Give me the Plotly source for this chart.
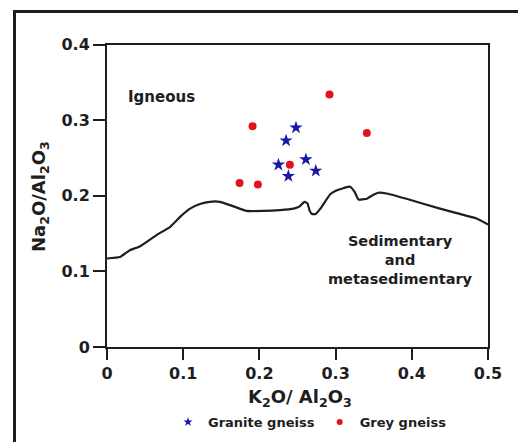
import plotly.graph_objects as go

# Discrimination boundary between igneous and sedimentary fields
boundary_x = [0.000, 0.017, 0.030, 0.043, 0.065, 0.083, 0.098, 0.109, 0.122, 0.135,
              0.148, 0.166, 0.183, 0.205, 0.227, 0.245, 0.253, 0.259, 0.263, 0.266,
              0.269, 0.274, 0.280, 0.293, 0.301, 0.310, 0.319, 0.325, 0.330, 0.341,
              0.349, 0.356, 0.367, 0.393, 0.437, 0.459, 0.485, 0.500]
boundary_y = [0.117, 0.119, 0.128, 0.133, 0.148, 0.159, 0.174, 0.183, 0.189, 0.192,
              0.192, 0.186, 0.180, 0.180, 0.181, 0.183, 0.186, 0.192, 0.190, 0.180,
              0.176, 0.176, 0.183, 0.202, 0.207, 0.210, 0.212, 0.205, 0.195, 0.196,
              0.201, 0.204, 0.203, 0.196, 0.183, 0.177, 0.170, 0.162]

# Sample compositions (K2O/Al2O3, Na2O/Al2O3)
granite_k = [0.248, 0.235, 0.261, 0.225, 0.274, 0.238]
granite_na = [0.290, 0.273, 0.248, 0.241, 0.233, 0.226]

grey_k = [0.292, 0.191, 0.341, 0.240, 0.174, 0.198]
grey_na = [0.334, 0.292, 0.283, 0.241, 0.217, 0.215]

x_ticks = [0, 0.1, 0.2, 0.3, 0.4, 0.5]
x_ticklabels = ["0", "0.1", "0.2", "0.3", "0.4", "0.5"]
y_ticks = [0, 0.1, 0.2, 0.3, 0.4]
y_ticklabels = ["0", "0.1", "0.2", "0.3", "0.4"]

INK = "#1e1e1e"
FONT = "DejaVu Sans"
BLUE = "#1818a8"
RED = "#e3121c"

W, H = 518, 442

fig = go.Figure()

fig.add_trace(go.Scatter(
    x=boundary_x, y=boundary_y, mode="lines",
    line=dict(color=INK, width=2.2, shape="spline", smoothing=0.4),
    showlegend=False, hoverinfo="skip",
))

fig.add_trace(go.Scatter(
    x=granite_k, y=granite_na, mode="markers", name="Granite gneiss",
    marker=dict(symbol="star", size=10, color=BLUE, line=dict(width=0)),
    legendgroup="granite", showlegend=False,
))

fig.add_trace(go.Scatter(
    x=grey_k, y=grey_na, mode="markers", name="Grey gneiss",
    marker=dict(symbol="circle", size=8, color=RED, line=dict(width=0)),
    legendgroup="grey", showlegend=False,
))

# Legend entries with smaller key symbols
fig.add_trace(go.Scatter(
    x=[None], y=[None], mode="markers", name="Granite gneiss", legendgroup="granite",
    marker=dict(symbol="star", size=7, color=BLUE, line=dict(width=0)),
))
fig.add_trace(go.Scatter(
    x=[None], y=[None], mode="markers", name="Grey gneiss", legendgroup="grey",
    marker=dict(symbol="circle", size=6, color=RED, line=dict(width=0)),
))

# Empty subplot whose top and left axis lines form the outer frame
fig.add_trace(go.Scatter(
    x=[None], y=[None], xaxis="x2", yaxis="y2", mode="lines",
    showlegend=False, hoverinfo="skip",
))

axis_common = dict(
    showgrid=False, zeroline=False, showline=True, linecolor=INK, linewidth=2,
    mirror=True, ticks="outside", tickcolor=INK, tickwidth=2, automargin=False,
    tickfont=dict(family=FONT, size=16, color=INK, weight="bold"),
)

frame_axis = dict(
    showgrid=False, zeroline=False, showline=True, linecolor=INK, linewidth=3,
    ticks="", showticklabels=False, automargin=False, fixedrange=True,
    range=[0, 1],
)

fig.update_layout(
    width=W, height=H,
    margin=dict(l=0, r=0, t=0, b=0, pad=0, autoexpand=False),
    paper_bgcolor="white", plot_bgcolor="rgba(0,0,0,0)",
    font=dict(family=FONT, color=INK),
    xaxis=dict(range=[0, 0.5], tickvals=x_ticks, ticktext=x_ticklabels,
               ticklen=11, domain=[107 / W, 488 / W], **axis_common),
    yaxis=dict(range=[0, 0.4], tickvals=y_ticks, ticktext=y_ticklabels,
               ticklen=12, domain=[1 - 347 / H, 1 - 44.5 / H], **axis_common),
    xaxis2=dict(domain=[15.5 / W, 1], anchor="y2", side="top", **frame_axis),
    yaxis2=dict(domain=[0, 1 - 12.5 / H], anchor="x2", side="left", **frame_axis),
    legend=dict(
        orientation="h", x=310 / W, y=1 - 422 / H, xanchor="center", yanchor="middle",
        font=dict(family=FONT, size=13, color=INK, weight="bold"),
        itemwidth=30, tracegroupgap=0, bgcolor="rgba(0,0,0,0)",
    ),
    annotations=[
        dict(text="K<sub>2</sub>O/ Al<sub>2</sub>O<sub>3</sub>", xref="paper", yref="paper",
             x=300 / W, y=1 - 398 / H, showarrow=False, xanchor="center", yanchor="middle",
             font=dict(family=FONT, size=18, color=INK, weight="bold")),
        dict(text="Na<sub>2</sub>O/Al<sub>2</sub>O<sub>3</sub>", xref="paper", yref="paper",
             x=40 / W, y=1 - 197 / H, showarrow=False, textangle=-90,
             xanchor="center", yanchor="middle",
             font=dict(family=FONT, size=18, color=INK, weight="bold")),
        dict(text="Igneous", xref="x", yref="y", x=0.072, y=0.33, showarrow=False,
             font=dict(family=FONT, size=15, color=INK, weight="bold")),
        dict(text="Sedimentary<br>and<br>metasedimentary", xref="x", yref="y",
             x=0.385, y=0.115, showarrow=False, align="center",
             font=dict(family=FONT, size=14.5, color=INK, weight="bold")),
    ],
)

fig.write_html("out.html", config={"displayModeBar": False})
